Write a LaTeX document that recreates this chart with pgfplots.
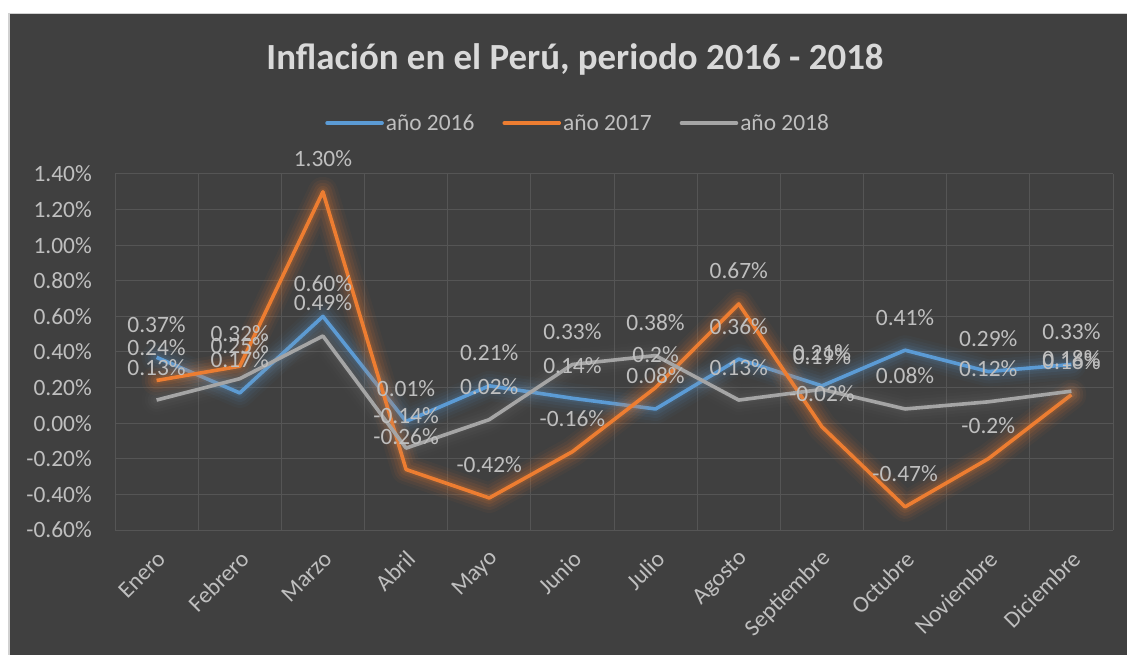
\documentclass[border=0pt]{standalone}
\usepackage{pgfplots}
\pgfplotsset{compat=1.18}
\usepackage{pgfplotstable}
\usepackage{fontspec}
\setmainfont{Carlito}
\definecolor{bg}{HTML}{404040}
\definecolor{sblue}{HTML}{5B9BD5}
\definecolor{sorange}{HTML}{ED7D31}
\definecolor{sgray}{HTML}{A5A5A5}
\definecolor{txt}{HTML}{BFBFBF}
\definecolor{ttl}{HTML}{D9D9D9}
\definecolor{grd}{HTML}{555555}

\pgfplotstableread{
x y l
0 0.37 0.37
1 0.17 0.17
2 0.60 0.60
3 0.01 0.01
4 0.21 0.21
5 0.14 0.14
6 0.08 0.08
7 0.36 0.36
8 0.21 0.21
9 0.41 0.41
10 0.29 0.29
11 0.33 0.33
}\tblA
\pgfplotstableread{
x y l
0 0.24 0.24
1 0.32 0.32
2 1.30 1.30
3 -0.26 -0.26
4 -0.42 -0.42
5 -0.16 -0.16
6 0.20 0.2
7 0.67 0.67
8 -0.02 -0.02
9 -0.47 -0.47
10 -0.20 -0.2
11 0.16 0.16
}\tblB
\pgfplotstableread{
x y l
0 0.13 0.13
1 0.25 0.25
2 0.49 0.49
3 -0.14 -0.14
4 0.02 0.02
5 0.33 0.33
6 0.38 0.38
7 0.13 0.13
8 0.19 0.19
9 0.08 0.08
10 0.12 0.12
11 0.18 0.18
}\tblC

\newcommand\glow[3]{%
  \addplot[forget plot,#1,line width=30bp,opacity=0.04*#3,line join=round,line cap=round] table[x=x,y=y]{#2};
  \addplot[forget plot,#1,line width=24bp,opacity=0.06*#3,line join=round,line cap=round] table[x=x,y=y]{#2};
  \addplot[forget plot,#1,line width=18bp,opacity=0.08*#3,line join=round,line cap=round] table[x=x,y=y]{#2};
  \addplot[forget plot,#1,line width=12bp,opacity=0.10*#3,line join=round,line cap=round] table[x=x,y=y]{#2};
  \addplot[forget plot,#1,line width=7bp,opacity=0.12*#3,line join=round,line cap=round] table[x=x,y=y]{#2};
}
\newcommand\labels[1]{%
  \addplot[draw=none,forget plot,point meta=explicit symbolic,
    nodes near coords={\pgfplotspointmeta\%},
    every node near coord/.append style={font=\fontsize{23.5}{28}\selectfont,text=txt,anchor=base,yshift=25bp,inner sep=0pt}]
    table[x=x,y=y,meta=l]{#1};
}

\begin{document}
\begin{tikzpicture}
\useasboundingbox (0,0) rectangle (1127bp,655bp);
\fill[white] (0,0) rectangle (1127bp,655bp);
\fill[bg] (8bp,0) rectangle (1127bp,642bp);
\draw[black!18, line width=1.5bp] (8.75bp,0) -- (8.75bp,641.25bp) -- (1127bp,641.25bp);
\node[text=ttl, font=\bfseries\fontsize{37}{44}\selectfont] at (575bp,596bp) {Inflación en el Perú, periodo 2016 - 2018};
\begin{axis}[
  at={(115bp,125bp)}, anchor=south west, scale only axis,
  width=998bp, height=356bp,
  xmin=-0.5, xmax=11.5, ymin=-0.6, ymax=1.4,
  clip=false,
  axis line style={draw=none},
  major tick length=0pt, minor tick length=0pt,
  xtick={0,...,11},
  xticklabels={Enero,Febrero,Marzo,Abril,Mayo,Junio,Julio,Agosto,Septiembre,Octubre,Noviembre,Diciembre},
  minor xtick={-0.5,0.5,...,11.5},
  ytick={-0.6,-0.4,...,1.41},
  yticklabels={-0.60\%,-0.40\%,-0.20\%,0.00\%,0.20\%,0.40\%,0.60\%,0.80\%,1.00\%,1.20\%,1.40\%},
  ymajorgrids, xminorgrids,
  grid style={grd, line width=1bp},
  minor grid style={grd, line width=1bp},
  yticklabel style={font=\fontsize{23.5}{28}\selectfont, text=txt, anchor=east, inner sep=0pt, xshift=-23bp},
  xticklabel style={font=\fontsize{23.5}{28}\selectfont, text=txt, inner sep=0pt, yshift=-25bp, xshift=5bp, rotate=45, anchor=east},
  legend style={at={(axis description cs:0.464,1.143)}, anchor=center, draw=none, fill=none,
    text=txt, font=\fontsize{23.5}{28}\selectfont, legend columns=3,
    /tikz/every even column/.append style={column sep=26bp},
    legend cell align=left},
  legend image code/.code={\draw[#1,line width=3.6bp,line cap=round] (0bp,0bp) -- (55bp,0bp);},
]
\glow{sblue}{\tblA}{0.9}
\addplot[sblue, line width=3.6bp, line join=round] table[x=x,y=y]{\tblA};
\addlegendentry{año 2016}
\glow{sorange}{\tblB}{1.1}
\addplot[sorange, line width=3.6bp, line join=round] table[x=x,y=y]{\tblB};
\addlegendentry{año 2017}
\glow{sgray}{\tblC}{0.4}
\addplot[sgray, line width=3.6bp, line join=round] table[x=x,y=y]{\tblC};
\addlegendentry{año 2018}
\labels{\tblA}
\labels{\tblB}
\labels{\tblC}
\end{axis}
\end{tikzpicture}
\end{document}
